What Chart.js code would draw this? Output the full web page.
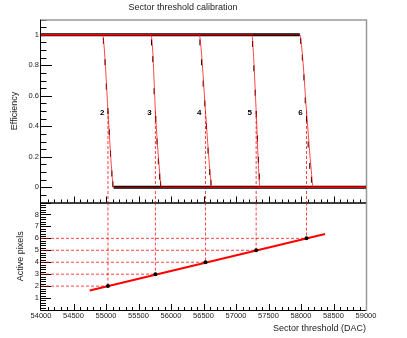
<!DOCTYPE html>
<html><head><meta charset="utf-8">
<script src="https://cdn.jsdelivr.net/npm/chart.js@4.4.0/dist/chart.umd.min.js"></script>
<style>
html,body{margin:0;padding:0;background:#fff;}
#wrap{position:relative;width:407px;height:338px;overflow:hidden;background:#fff}
canvas{position:absolute;left:0}
#top{top:0}
#bot{top:196px}
</style></head><body>
<div id="wrap"><canvas id="top" width="407" height="204"></canvas><canvas id="bot" width="407" height="142"></canvas></div>
<script>
// ---------- data ----------
const sectorLabels = ['2', '3', '4', '5', '6'];
const activePixels = [2, 3, 4, 5, 6];
const thresholds = [55030, 55760, 56530, 57310, 58085];   // 50% efficiency points (DAC)

// fitted efficiency curves (red), one x-array per sector, shared efficiency levels
const fitEff = [1, 1, 0.9, 0.5, 0.1, 0, 0];
const fitX2 = [54000, 54945, 54975, 55030, 55090, 55117, 59000];
const fitX3 = [54000, 55692, 55718, 55760, 55825, 55850, 59000];
const fitX4 = [54000, 56433, 56465, 56530, 56600, 56627, 59000];
const fitX5 = [54000, 57245, 57265, 57310, 57350, 57368, 59000];
const fitX6 = [54000, 57982, 58015, 58085, 58160, 58187, 59000];
const fitXs = [fitX2, fitX3, fitX4, fitX5, fitX6];

// measured efficiency points in the transition region (black)
const meas2 = [[54960, 0.96], [54985, 0.82], [55005, 0.66], [55030, 0.50], [55050, 0.36], [55070, 0.22], [55090, 0.09], [55105, 0.02]];
const meas3 = [[55700, 0.95], [55720, 0.84], [55740, 0.63], [55765, 0.45], [55785, 0.30], [55805, 0.17], [55825, 0.07], [55840, 0.02]];
const meas4 = [[56445, 0.95], [56470, 0.82], [56495, 0.68], [56520, 0.55], [56545, 0.40], [56570, 0.24], [56595, 0.10], [56615, 0.03]];
const meas5 = [[57255, 0.94], [57275, 0.78], [57295, 0.62], [57312, 0.48], [57330, 0.32], [57345, 0.18], [57358, 0.07]];
const meas6 = [[57995, 0.96], [58020, 0.85], [58045, 0.72], [58065, 0.57], [58085, 0.45], [58110, 0.28], [58135, 0.14], [58160, 0.05]];
const measAll = [meas2, meas3, meas4, meas5, meas6];

// sector number labels position (DAC, efficiency)
const labelX = [54940, 55670, 56435, 57210, 57990];
const labelEff = 0.49;

// linear calibration fit (bottom panel)
const calibFitX = [54750, 58370];
const calibFitY = [1.63, 6.37];

// axis ranges
const xMin = 54000, xMax = 59000;
const effMin = -0.1, effMax = 1.1;
const pixMin = 0, pixMax = 9;

// ---------- helpers ----------
const FONT = "'Liberation Sans', Arial, Helvetica, sans-serif";
const RED = '#ff0000';

const noPad = s => { s.paddingTop = 0; s.paddingBottom = 0; s.paddingLeft = 0; s.paddingRight = 0; };

const rootAxes = {
  id: 'rootAxes',
  beforeDatasetsDraw(chart, args, opts) {
    const {ctx, chartArea: a} = chart;
    const x = chart.scales.x, y = chart.scales.y;
    ctx.save();
    ctx.lineWidth = 1;
    ctx.strokeStyle = '#000';
    for (const t of opts.yTicks) {
      const py = Math.round(y.getPixelForValue(t.v)) + 0.5;
      if (py < a.top + 1 || py > a.bottom - 1) continue;
      ctx.beginPath(); ctx.moveTo(a.left, py); ctx.lineTo(a.left + t.len, py); ctx.stroke();
    }
    for (let v = xMin; v <= xMax; v += 100) {
      const px = Math.round(x.getPixelForValue(v)) + 0.5;
      if (px < a.left + 1 || px > a.right - 1) continue;
      const len = (v % 500 === 0) ? opts.xMajor : opts.xMinor;
      ctx.beginPath(); ctx.moveTo(px, a.bottom); ctx.lineTo(px, a.bottom - len); ctx.stroke();
    }
    ctx.strokeStyle = '#000';
    ctx.beginPath();
    ctx.moveTo(a.left - 0.5, a.top); ctx.lineTo(a.left - 0.5, a.bottom + 0.5);
    ctx.lineTo(a.right, a.bottom + 0.5);
    ctx.stroke();
    ctx.strokeStyle = '#999';
    ctx.lineWidth = 1.5;
    ctx.beginPath();
    if (opts.drawTop) { ctx.moveTo(a.left, a.top + 0.5); ctx.lineTo(a.right + 0.5, a.top + 0.5); }
    else { ctx.moveTo(a.right + 0.5, a.top); }
    ctx.lineTo(a.right + 0.5, a.bottom + 1);
    ctx.stroke();
    if (!opts.drawTop) {
      ctx.strokeStyle = '#000'; ctx.lineWidth = 1;
      ctx.beginPath(); ctx.moveTo(a.left, a.top + 0.5); ctx.lineTo(a.right, a.top + 0.5); ctx.stroke();
    }
    ctx.restore();
  }
};

const sectorText = {
  id: 'sectorText',
  afterDatasetsDraw(chart, args, opts) {
    if (!opts.show) return;
    const {ctx} = chart;
    const x = chart.scales.x, y = chart.scales.y;
    ctx.save();
    ctx.font = "bold 8px " + FONT;
    ctx.fillStyle = '#000';
    ctx.textAlign = 'center';
    ctx.textBaseline = 'middle';
    sectorLabels.forEach((s, i) => ctx.fillText(s, x.getPixelForValue(labelX[i]), y.getPixelForValue(labelEff)));
    ctx.restore();
  }
};

// ---------- top panel ----------
const effTicks = [];
for (let i = -2; i <= 22; i++) effTicks.push({v: i * 0.05, len: (i % 4 === 0) ? 11 : 5.5});

const topDashed = [];
thresholds.forEach(t => { topDashed.push({x: t, y: 0.5}, {x: t, y: effMin}, {x: t, y: null}); });
const plateau = [];
fitXs.forEach(fx => {
  plateau.push({x: xMin, y: 1}, {x: fx[1], y: 1}, {x: fx[1], y: null},
               {x: fx[5], y: 0}, {x: xMax, y: 0}, {x: xMax, y: null});
});
const measPts = [];
measAll.forEach(m => m.forEach(p => measPts.push({x: p[0], y: p[1]})));

const topDatasets = [
  {data: topDashed, borderColor: 'rgba(255,0,0,0.75)', borderWidth: 1, borderDash: [3, 2], pointRadius: 0, spanGaps: false, order: 4},
  {data: plateau, borderColor: '#000', borderWidth: 3, pointRadius: 0, spanGaps: false, order: 3},
  {data: measPts, showLine: false, pointStyle: 'line', rotation: 90, pointRadius: 3, borderColor: '#000', borderWidth: 1, order: 2}
];
fitXs.forEach((fx, i) => {
  topDatasets.push({
    data: fx.map((v, j) => ({x: v, y: fitEff[j]})),
    borderColor: 'rgba(255,0,0,0.8)', borderWidth: 0.9, pointRadius: 0,
    cubicInterpolationMode: 'monotone', order: 1
  });
});

new Chart(document.getElementById('top'), {
  type: 'line',
  data: {datasets: topDatasets},
  options: {
    responsive: false, animation: false, devicePixelRatio: 1,
    layout: {autoPadding: false, padding: {left: 0, right: 41, top: 0, bottom: 1.5}},
    plugins: {
      legend: {display: false}, tooltip: {enabled: false},
      title: {display: true, text: 'Sector threshold calibration', color: '#222',
              font: {family: FONT, size: 9, weight: 'normal'}, padding: {top: 2.5, bottom: 6.2}},
      rootAxes: {yTicks: effTicks, xMajor: 6, xMinor: 3, drawTop: true},
      sectorText: {show: true}
    },
    scales: {
      x: {type: 'linear', min: xMin, max: xMax, display: false,
          ticks: {display: false}, grid: {display: false, drawTicks: false},
          afterFit: s => { s.height = 0; noPad(s); }},
      y: {
        type: 'linear', min: effMin, max: effMax,
        afterFit: s => { s.width = 41; noPad(s); },
        grid: {display: false, drawTicks: false}, border: {display: false},
        ticks: {
          stepSize: 0.05, autoSkip: false, padding: 2, color: '#222',
          font: {family: FONT, size: 7.5},
          callback: v => { const k = Math.round(v * 100); if (k < 0 || k > 100 || k % 20 !== 0) return null; return String(k / 100); }
        },
        title: {display: true, text: 'Efficiency', color: '#222', font: {family: FONT, size: 9}, padding: {top: 9.6, bottom: 0}}
      }
    }
  },
  plugins: [rootAxes, sectorText]
});

// ---------- bottom panel ----------
const pixTicks = [];
for (let i = 0; i <= 45; i++) pixTicks.push({v: i * 0.2, len: (i % 5 === 0) ? 10 : 5});

const botDashed = [];
thresholds.forEach((t, i) => {
  botDashed.push({x: xMin, y: activePixels[i]}, {x: t, y: activePixels[i]}, {x: t, y: null},
                 {x: t, y: pixMax}, {x: t, y: activePixels[i]}, {x: t, y: null});
});

new Chart(document.getElementById('bot'), {
  type: 'line',
  data: {datasets: [
    {data: botDashed, borderColor: 'rgba(255,0,0,0.75)', borderWidth: 1, borderDash: [3, 2], pointRadius: 0, spanGaps: false, order: 3},
    {data: calibFitX.map((v, i) => ({x: v, y: calibFitY[i]})), borderColor: RED, borderWidth: 2, pointRadius: 0, order: 2},
    {data: thresholds.map((t, i) => ({x: t, y: activePixels[i]})), showLine: false, pointStyle: 'circle',
     pointRadius: 2, backgroundColor: '#000', borderColor: '#000', borderWidth: 0, order: 1}
  ]},
  options: {
    responsive: false, animation: false, devicePixelRatio: 1,
    layout: {autoPadding: false, padding: {left: 0, right: 41, top: 6.5, bottom: 0}},
    plugins: {
      legend: {display: false}, tooltip: {enabled: false},
      rootAxes: {yTicks: pixTicks, xMajor: 6, xMinor: 3, drawTop: false},
      sectorText: {show: false}
    },
    scales: {
      x: {
        type: 'linear', min: xMin, max: xMax,
        afterFit: s => { s.height = 28; noPad(s); },
        grid: {display: false, drawTicks: false}, border: {display: false},
        ticks: {stepSize: 500, autoSkip: false, maxRotation: 0, padding: 1.5, color: '#222',
                font: {family: FONT, size: 7.5}, callback: v => String(v)},
        title: {display: true, text: 'Sector threshold (DAC)', align: 'end', color: '#222',
                font: {family: FONT, size: 9}, padding: {top: 0, bottom: 3.6}}
      },
      y: {
        type: 'linear', min: pixMin, max: pixMax,
        afterFit: s => { s.width = 41; noPad(s); },
        grid: {display: false, drawTicks: false}, border: {display: false},
        ticks: {
          stepSize: 0.2, autoSkip: false, padding: 2, color: '#222',
          font: {family: FONT, size: 7.5},
          callback: v => { const k = Math.round(v * 10); if (k % 10 !== 0 || k < 10 || k > 80) return null; return String(k / 10); }
        },
        title: {display: true, text: 'Active pixels', color: '#222', font: {family: FONT, size: 9}, padding: {top: 15.3, bottom: 0}}
      }
    }
  },
  plugins: [rootAxes, sectorText]
});
</script>
</body></html>
